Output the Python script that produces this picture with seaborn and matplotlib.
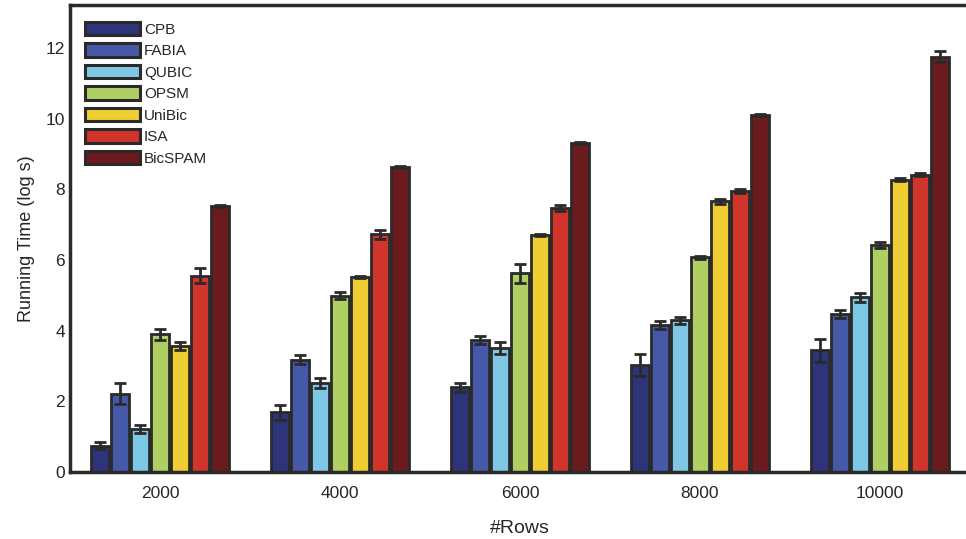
import pandas as pd
import matplotlib
matplotlib.use("Agg")
import matplotlib.pyplot as plt
import seaborn as sns

# ============================
# Data
# ============================
rows = ["2000", "4000", "6000", "8000", "10000"]
methods = ["CPB", "FABIA", "QUBIC", "OPSM", "UniBic", "ISA", "BicSPAM"]

cpb = [0.75, 1.69, 2.40, 3.02, 3.44]
fabia = [2.22, 3.18, 3.73, 4.16, 4.47]
qubic = [1.22, 2.52, 3.52, 4.30, 4.94]
opsm = [3.90, 4.99, 5.62, 6.08, 6.42]
unibic = [3.56, 5.52, 6.70, 7.66, 8.28]
isa = [5.56, 6.73, 7.48, 7.96, 8.42]
bicspam = [7.52, 8.64, 9.32, 10.10, 11.76]

cpb_err = [0.10, 0.22, 0.13, 0.31, 0.32]
fabia_err = [0.30, 0.12, 0.11, 0.12, 0.12]
qubic_err = [0.12, 0.13, 0.17, 0.10, 0.12]
opsm_err = [0.15, 0.10, 0.26, 0.04, 0.09]
unibic_err = [0.11, 0.03, 0.03, 0.06, 0.03]
isa_err = [0.22, 0.12, 0.08, 0.06, 0.04]
bicspam_err = [0.03, 0.03, 0.03, 0.03, 0.16]

colors = ["#2e3479", "#4559a8", "#7ec8e6", "#afcf63", "#f0cd33", "#d0342a", "#6b1a1e"]

means = [cpb, fabia, qubic, opsm, unibic, isa, bicspam]
errs = [cpb_err, fabia_err, qubic_err, opsm_err, unibic_err, isa_err, bicspam_err]

df = pd.DataFrame(
    [(r, m, means[j][i]) for j, m in enumerate(methods) for i, r in enumerate(rows)],
    columns=["rows", "method", "time"],
)

# ============================
# Plot
# ============================
sns.set_style("white")
plt.rcParams["font.family"] = ["Liberation Sans", "DejaVu Sans"]

fig = plt.figure(figsize=(9.66, 5.39), dpi=100)
ax = fig.add_axes([0.0725, 0.1243, 1.004 - 0.0725, 0.9907 - 0.1243])

sns.barplot(data=df, x="rows", y="time", hue="method", order=rows,
            hue_order=methods, palette=colors, saturation=1, errorbar=None,
            width=0.78, gap=0.12, edgecolor="#2a2a2a", linewidth=2,
            ax=ax)

# error bars at each bar centre
for cont, err in zip(ax.containers, errs):
    xs = [p.get_x() + p.get_width() / 2 for p in cont.patches]
    hs = [p.get_height() for p in cont.patches]
    ax.errorbar(xs, hs, yerr=err, fmt="none", ecolor="#2a2a2a",
                elinewidth=2, capsize=4.5, capthick=2, zorder=3)

ax.set_xlim(-0.5, 4.5)
ax.set_ylim(0, 13.22)
ax.set_yticks([0, 2, 4, 6, 8, 10, 12])
ax.set_xlabel("#Rows", fontsize=14, labelpad=14)
ax.set_ylabel("Running Time (log s)", fontsize=13, labelpad=8)
ax.tick_params(axis="both", labelsize=12.5, direction="in", length=4,
               width=1.2, color="#2a2a2a")
ax.tick_params(axis="x", pad=10)

for side in ["left", "bottom", "top", "right"]:
    ax.spines[side].set_visible(True)
    ax.spines[side].set_linewidth(2.5)
    ax.spines[side].set_color("#2a2a2a")

leg = ax.legend(loc="upper left", bbox_to_anchor=(0.005, 0.987), frameon=False,
                fontsize=11, handlelength=3.6, handleheight=1.0,
                labelspacing=0.42, handletextpad=0.25, borderaxespad=0.3)
for h in leg.legend_handles:
    h.set_edgecolor("#2a2a2a")
    h.set_linewidth(2.2)

fig.savefig("out.png", dpi=100)
